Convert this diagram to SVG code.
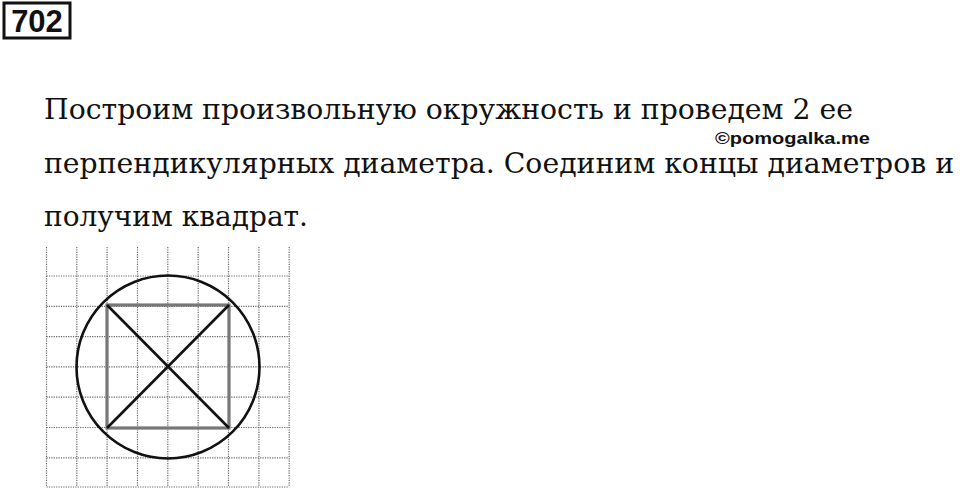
<svg xmlns="http://www.w3.org/2000/svg" width="960" height="490" viewBox="0 0 960 490">
<style>
.t{font-family:"DejaVu Serif","Liberation Serif",serif;font-size:28px;fill:#111}
.g{stroke:#666;stroke-width:1.2;stroke-dasharray:1.2 1.2;fill:none}
</style>
<rect width="960" height="490" fill="#fff"/>
<g id="header">
<rect x="4" y="3" width="66" height="35" fill="#fff" stroke="#111" stroke-width="3"/>
<text x="37" y="32" text-anchor="middle" font-family="Liberation Sans,Arial,sans-serif" font-weight="bold" font-size="31" fill="#111">702</text>
</g>
<g id="text">
<text class="t" x="44" y="119" textLength="809" lengthAdjust="spacingAndGlyphs">Построим произвольную окружность и проведем 2 ее</text>
<text class="t" x="44" y="173" textLength="910" lengthAdjust="spacingAndGlyphs">перпендикулярных диаметра. Соединим концы диаметров и</text>
<text class="t" x="44" y="226" textLength="264" lengthAdjust="spacingAndGlyphs">получим квадрат.</text>
<text x="715" y="144" font-family="Liberation Sans,Arial,sans-serif" font-weight="bold" font-size="17" fill="#111" textLength="155" lengthAdjust="spacingAndGlyphs">©pomogalka.me</text>
</g>
<g id="grid" class="g">
<path d="M46.5 247V487M76.8 247V487M107.1 247V487M137.5 247V487M167.8 247V487M198.2 247V487M228.5 247V487M258.9 247V487M289.2 247V487"/>
<path d="M46.5 276H289.2M46.5 306.3H289.2M46.5 336.6H289.2M46.5 366.9H289.2M46.5 397.2H289.2M46.5 427.5H289.2M46.5 457.8H289.2M46.5 487H289.2"/>
</g>
<g id="circle">
<circle cx="168" cy="367" r="91.5" fill="none" stroke="#111" stroke-width="2.6"/>
</g>
<g id="square">
<rect x="107" y="305" width="122" height="123" fill="none" stroke="#777" stroke-width="3.2"/>
</g>
<g id="diagonals" stroke="#111" stroke-width="2.6">
<line x1="107" y1="305" x2="229" y2="428"/>
<line x1="229" y1="305" x2="107" y2="428"/>
</g>
</svg>
